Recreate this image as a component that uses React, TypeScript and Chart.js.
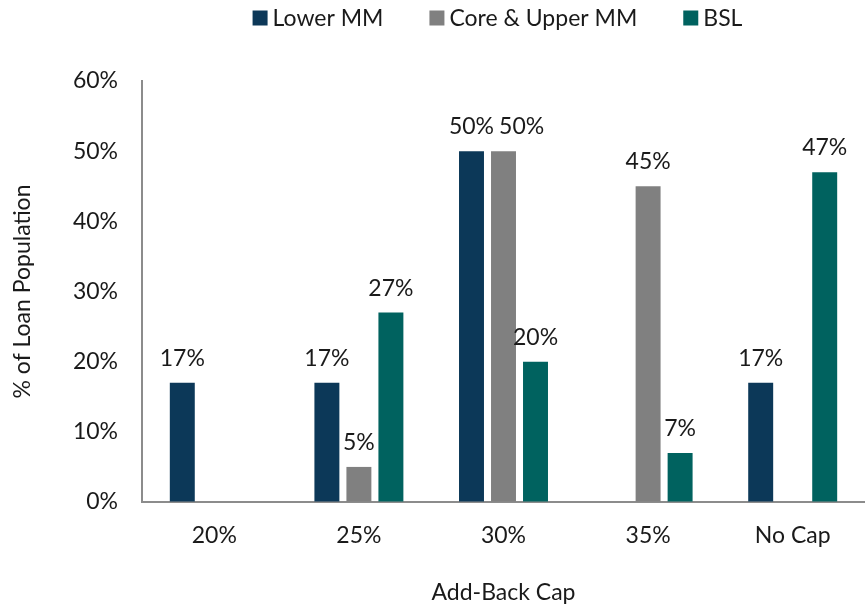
import React, { useEffect, useRef } from "react";
import { Chart, registerables } from "chart.js";

Chart.register(...registerables);

const categories = ["20%", "25%", "30%", "35%", "No Cap"];
const lowerMM = [17, 17, 50, 0, 17];
const coreUpperMM = [0, 5, 50, 45, 0];
const bsl = [0, 27, 20, 7, 47];
const yTicks = [0, 10, 20, 30, 40, 50, 60];

const FONT = "Lato, 'Open Sans', sans-serif";
const FONT_SIZE = 23;
const TEXT = "#1a1a1a";
const AXIS = "#8c8c8c";

// Value labels above every non-zero bar; a label that would collide with
// its left neighbour (same group, same height band) is nudged to the right.
const barLabels = {
  id: "barLabels",
  afterDatasetsDraw(chart: any) {
    const ctx = chart.ctx;
    ctx.save();
    ctx.font = `${FONT_SIZE}px ${FONT}`;
    ctx.fillStyle = TEXT;
    ctx.textAlign = "left";
    ctx.textBaseline = "alphabetic";
    const n = chart.data.labels.length;
    for (let j = 0; j < n; j++) {
      let prev: { right: number; y: number } | null = null;
      chart.data.datasets.forEach((ds: any, i: number) => {
        const v = ds.data[j];
        if (!v) return;
        const bar: any = chart.getDatasetMeta(i).data[j];
        const txt = `${v}%`;
        const w = ctx.measureText(txt).width;
        const y = bar.y - 17;
        let left = bar.x - w / 2;
        if (prev && Math.abs(prev.y - y) < FONT_SIZE && left < prev.right + 5) {
          left = prev.right + 5;
        }
        ctx.fillText(txt, left, y);
        prev = { right: left + w, y };
      });
    }
    ctx.restore();
  },
};

// Horizontal legend row across the top
const topLegend = {
  id: "topLegend",
  afterDraw(chart: any) {
    const ctx = chart.ctx;
    const box = 15;
    const gapText = 5;
    const gapItem = 46;
    const area = chart.chartArea;
    const centerX = (area.left + area.right) / 2 - 6;
    const centerY = 18;
    ctx.save();
    ctx.font = `${FONT_SIZE}px ${FONT}`;
    const items = chart.data.datasets.map((ds: any) => ({
      label: ds.label,
      color: ds.backgroundColor,
      w: ctx.measureText(ds.label).width,
    }));
    const total =
      items.reduce((s: number, it: any) => s + box + gapText + it.w, 0) +
      gapItem * (items.length - 1);
    let x = centerX - total / 2;
    ctx.textBaseline = "middle";
    ctx.textAlign = "left";
    items.forEach((it: any) => {
      ctx.fillStyle = it.color;
      ctx.fillRect(x, centerY - box / 2, box, box);
      x += box + gapText;
      ctx.fillStyle = TEXT;
      ctx.fillText(it.label, x, centerY + 1);
      x += it.w + gapItem;
    });
    ctx.restore();
  },
};

export default function App() {
  const canvasRef = useRef<HTMLCanvasElement | null>(null);

  useEffect(() => {
    if (!canvasRef.current) return;
    const chart = new Chart(canvasRef.current, {
      type: "bar",
      data: {
        labels: categories,
        datasets: [
          { label: "Lower MM", data: lowerMM, backgroundColor: "#0c3858" },
          { label: "Core & Upper MM", data: coreUpperMM, backgroundColor: "#808080" },
          { label: "BSL", data: bsl, backgroundColor: "#00625f" },
        ],
      },
      options: {
        animation: false,
        responsive: true,
        maintainAspectRatio: false,
        layout: { padding: { top: 81, right: 0, left: 0, bottom: 0 } },
        datasets: {
          bar: { categoryPercentage: 0.664, barPercentage: 0.78 },
        },
        plugins: {
          legend: { display: false },
          tooltip: { enabled: false },
        },
        scales: {
          x: {
            grid: { display: true, drawOnChartArea: false, drawTicks: false },
            border: { display: true, color: AXIS, width: 2 },
            ticks: {
              color: TEXT,
              font: { family: FONT, size: FONT_SIZE },
              padding: 20,
            },
            title: {
              display: true,
              text: "Add-Back Cap",
              color: TEXT,
              font: { family: FONT, size: FONT_SIZE },
              padding: { top: 0, bottom: 0 },
            },
            afterFit(s: any) {
              s.height = 104;
            },
          },
          y: {
            min: 0,
            max: 60,
            grid: { display: true, drawOnChartArea: false, drawTicks: false },
            border: { display: true, color: AXIS, width: 2 },
            afterBuildTicks(s: any) {
              s.ticks = yTicks.map((v) => ({ value: v }));
            },
            ticks: {
              color: TEXT,
              font: { family: FONT, size: FONT_SIZE },
              padding: 24,
              callback: (v: any) => `${v}%`,
            },
            title: {
              display: true,
              text: "% of Loan Population",
              color: TEXT,
              font: { family: FONT, size: FONT_SIZE },
              padding: { top: 9, bottom: 0 },
            },
            afterFit(s: any) {
              s.width = 142;
            },
          },
        },
      },
      plugins: [barLabels, topLegend],
    });
    return () => chart.destroy();
  }, []);

  return (
    <div
      style={{
        position: "fixed",
        left: 0,
        top: 0,
        width: 865,
        height: 606,
        background: "#ffffff",
      }}
    >
      <canvas ref={canvasRef} />
    </div>
  );
}
